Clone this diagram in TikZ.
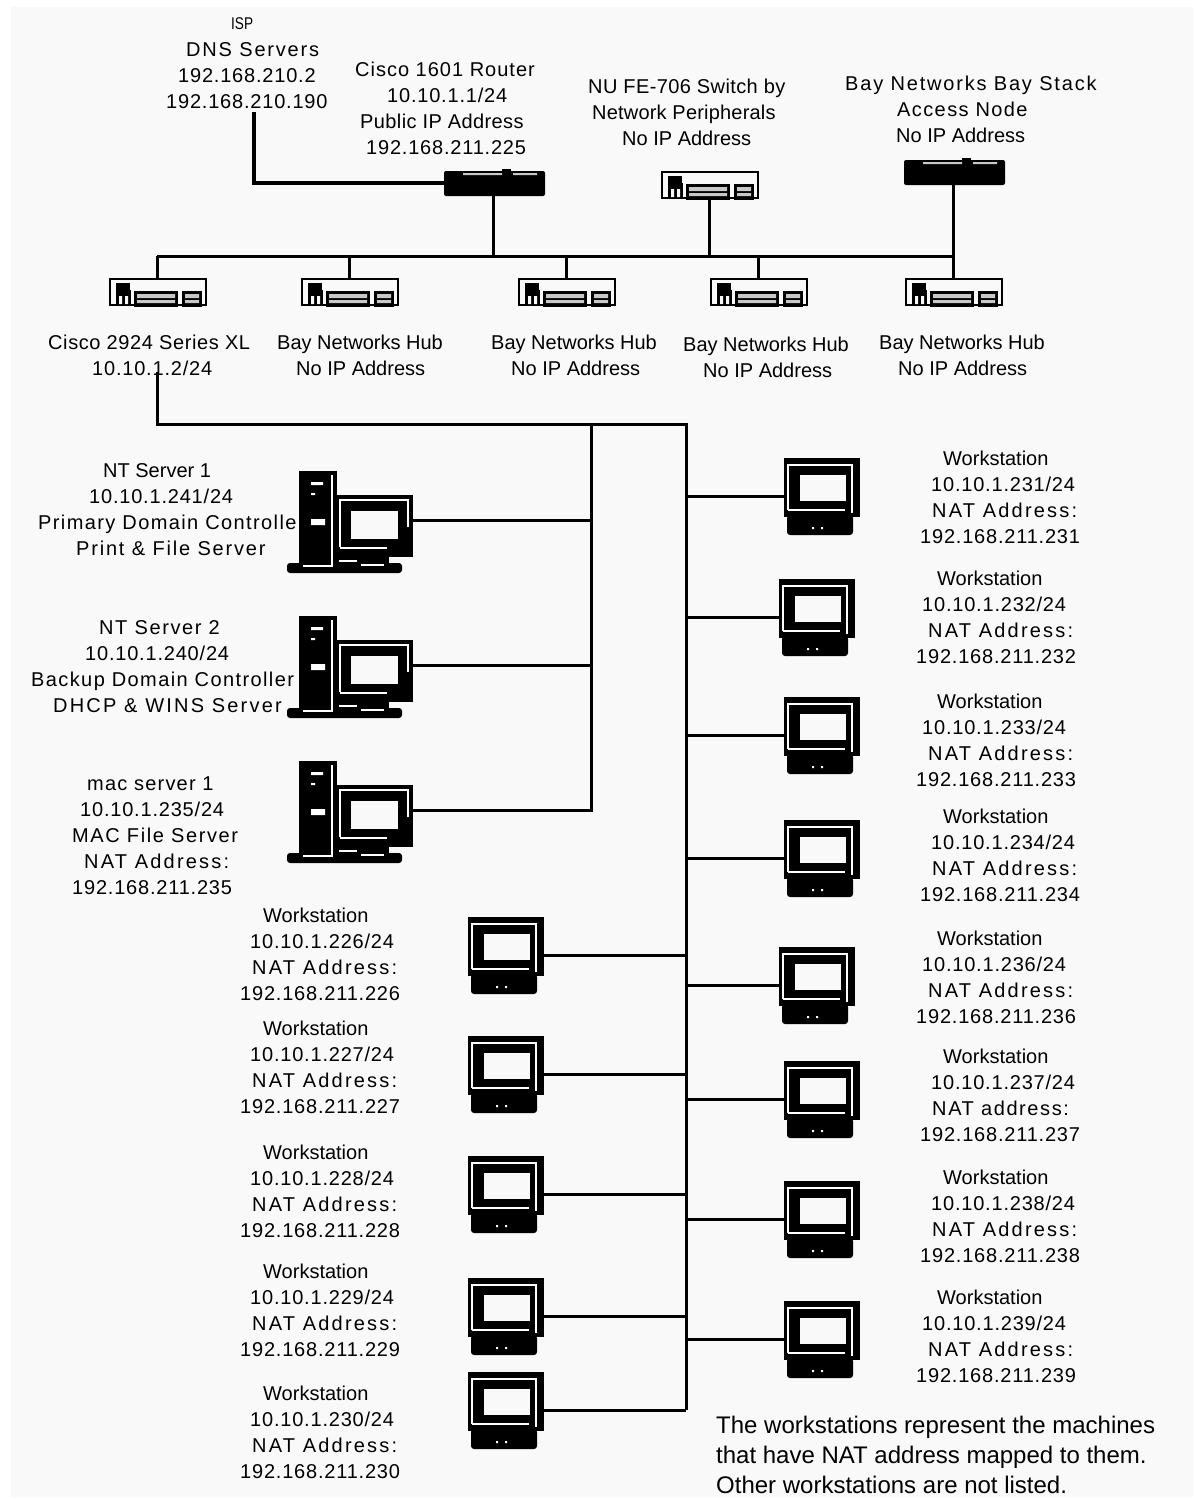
\documentclass[tikz,border=0pt]{standalone}
\usepackage{fontspec}
\setmainfont{Liberation Sans}
\usepackage{xcolor}
\usepackage{tikz}
\usetikzlibrary{arrows.meta,positioning,calc}

\definecolor{panelgray}{HTML}{F9F9F9}
\definecolor{stripgray}{HTML}{C8C8C8}
\newcommand{\offs}[1]{\hspace*{#1pt}}
\newcommand{\ls}[2]{{\addfontfeature{LetterSpace=#1}#2}}
\newcommand{\ip}[1]{\ls{4}{#1}}
\newcommand{\natlbl}{\ls{11}{NAT Address:}}

\tikzset{
    link/.style={line width=3pt, black},
    lbl/.style={anchor=west, align=left, inner sep=0pt, font=\fontsize{20}{26}\selectfont},
    note/.style={anchor=west, align=left, inner sep=0pt, font=\fontsize{24}{30}\selectfont},
    pics/wkstn/.style={code={
        \fill[black] (0,0) rectangle (76,59);
        \fill[black, rounded corners=3pt] (3,57) rectangle (69,77);
        \draw[white, line width=1.5pt] (4,52) -- (4,7) -- (68,7) -- (68,55);
        \draw[white, line width=2pt] (4,52) -- (61,52);
        \fill[panelgray] (16,17) rectangle (62,43);
        \fill[white] (28,69) rectangle (30,71) (37,69) rectangle (39,71);
        \coordinate (-w) at (0,38);
        \coordinate (-e) at (76,38);
    }},
    pics/server/.style={code={
        \fill[black] (12,0) rectangle (50,98);
        \fill[black] (50,24) rectangle (126,86);
        \fill[black] (50,86) rectangle (102,94);
        \fill[black, rounded corners=3pt] (0,92) rectangle (115,102);
        \fill[white] (24,11) rectangle (36,14) (24,48) rectangle (38,54) (24,22) rectangle (28,24);
        \draw[white, line width=1.2pt] (45,4) -- (45,95) -- (16,95);
        \draw[white, line width=1.2pt] (53,76) -- (53,29) -- (121,29) -- (121,56);
        \draw[white, line width=1.5pt] (53,77) -- (100,77);
        \fill[panelgray] (64,40) rectangle (111,68);
        \draw[white, line width=1.2pt] (52,90) -- (70,90) (74,94) -- (97,94);
        \coordinate (-e) at (126,49);
    }},
    pics/hub/.style={code={
        \draw[black, line width=1.5pt] (0,0) rectangle (96,26);
        \fill[black] (6,4) rectangle (20,11);
        \fill[black] (6,11) rectangle (21,27);
        \fill[panelgray] (9,17) rectangle (12,25) (15,17) rectangle (18,25);
        \fill[black] (24,12) rectangle (68,28);
        \fill[black] (72,12) rectangle (92,28);
        \fill[stripgray] (27,15) rectangle (65,19) (27,21) rectangle (65,24);
        \fill[stripgray] (75,15) rectangle (89,19) (75,21) rectangle (89,24);
        \coordinate (-n) at (47,0);
    }},
    pics/router/.style={code={
        \fill[black, rounded corners=2pt] (0,0) rectangle (101,25);
        \fill[black] (58,-2) rectangle (67,0);
        \fill[stripgray] (19,2) rectangle (58,4) (69,2) rectangle (93,4);
        \coordinate (-w) at (0,12);
        \coordinate (-n) at (49,0);
        \coordinate (-s) at (49,25);
    }},
}

\begin{document}
\begin{tikzpicture}[x=1pt, y=-1pt]
    \useasboundingbox (0,0) rectangle (1195,1499);
    \fill[panelgray] (11,7) rectangle (1193,1497);

    % Top device labels
    \node[lbl, font=\fontsize{17}{17}\selectfont\addfontfeature{FakeStretch=0.8}] (isp) at (231,24) {ISP};
    \node[lbl] (dns) at (166,76) {\offs{20}\ls{9}{DNS Servers}\\\offs{12}\ip{192.168.210.2}\\\ip{192.168.210.190}};
    \node[lbl] (routertext) at (355,108) {\ls{5}{Cisco 1601 Router}\\\offs{32}\ip{10.10.1.1/24}\\\offs{5}\ls{2}{Public IP Address}\\\offs{11}\ip{192.168.211.225}};
    \node[lbl] (switchtext) at (588,112) {\ls{2}{NU FE-706 Switch by}\\\offs{4}\ls{1}{Network Peripherals}\\\offs{34}No IP Address};
    \node[lbl] (stacktext) at (845,109) {\ls{9}{Bay Networks Bay Stack}\\\offs{52}\ls{7}{Access Node}\\\offs{51}No IP Address};

    % Hub labels
    \node[lbl] (c2924text) at (48,355) {\ls{3}{Cisco 2924 Series XL}\\\offs{44}\ip{10.10.1.2/24}};
    \node[lbl] (hubtext1) at (277,355) {Bay Networks Hub\\\offs{19}No IP Address};
    \node[lbl] (hubtext2) at (491,355) {Bay Networks Hub\\\offs{20}No IP Address};
    \node[lbl] (hubtext3) at (683,357) {Bay Networks Hub\\\offs{20}No IP Address};
    \node[lbl] (hubtext4) at (879,355) {Bay Networks Hub\\\offs{19}No IP Address};

    % Server labels
    \node[lbl] (nt1text) at (38,510) {\offs{65}NT Server 1\\\offs{51}\ip{10.10.1.241/24}\\\ls{7}{Primary Domain Controlle}\\\offs{38}\ls{9}{Print \& File Server}};
    \node[lbl] (nt2text) at (31,667) {\offs{68}\ls{8}{NT Server 2}\\\offs{54}\ip{10.10.1.240/24}\\\ls{7}{Backup Domain Controller}\\\offs{22}\ls{11}{DHCP \& WINS Server}};
    \node[lbl] (mactext) at (72,836) {\offs{15}\ls{6}{mac server 1}\\\offs{8}\ip{10.10.1.235/24}\\\ls{8}{MAC File Server}\\\offs{12}\natlbl\\\ip{192.168.211.235}};

    % Workstation labels, left column
    \node[lbl] (text226) at (240,954) {\offs{23}Workstation\\\offs{10}\ip{10.10.1.226/24}\\\offs{12}\natlbl\\\ip{192.168.211.226}};
    \node[lbl] (text227) at (240,1067) {\offs{23}Workstation\\\offs{10}\ip{10.10.1.227/24}\\\offs{12}\natlbl\\\ip{192.168.211.227}};
    \node[lbl] (text228) at (240,1191) {\offs{23}Workstation\\\offs{10}\ip{10.10.1.228/24}\\\offs{12}\natlbl\\\ip{192.168.211.228}};
    \node[lbl] (text229) at (240,1310) {\offs{23}Workstation\\\offs{10}\ip{10.10.1.229/24}\\\offs{12}\natlbl\\\ip{192.168.211.229}};
    \node[lbl] (text230) at (240,1432) {\offs{23}Workstation\\\offs{10}\ip{10.10.1.230/24}\\\offs{12}\natlbl\\\ip{192.168.211.230}};

    % Workstation labels, right column
    \node[lbl] (text231) at (920,497) {\offs{23}Workstation\\\offs{11}\ip{10.10.1.231/24}\\\offs{12}\natlbl\\\ip{192.168.211.231}};
    \node[lbl] (text232) at (916,617) {\offs{21}Workstation\\\offs{6}\ip{10.10.1.232/24}\\\offs{12}\natlbl\\\ip{192.168.211.232}};
    \node[lbl] (text233) at (916,740) {\offs{21}Workstation\\\offs{6}\ip{10.10.1.233/24}\\\offs{12}\natlbl\\\ip{192.168.211.233}};
    \node[lbl] (text234) at (920,855) {\offs{23}Workstation\\\offs{11}\ip{10.10.1.234/24}\\\offs{12}\natlbl\\\ip{192.168.211.234}};
    \node[lbl] (text236) at (916,977) {\offs{21}Workstation\\\offs{6}\ip{10.10.1.236/24}\\\offs{12}\natlbl\\\ip{192.168.211.236}};
    \node[lbl] (text237) at (920,1095) {\offs{23}Workstation\\\offs{11}\ip{10.10.1.237/24}\\\offs{12}\ls{8}{NAT address:}\\\ip{192.168.211.237}};
    \node[lbl] (text238) at (920,1216) {\offs{23}Workstation\\\offs{11}\ip{10.10.1.238/24}\\\offs{12}\natlbl\\\ip{192.168.211.238}};
    \node[lbl] (text239) at (916,1336) {\offs{21}Workstation\\\offs{6}\ip{10.10.1.239/24}\\\offs{12}\natlbl\\\ip{192.168.211.239}};

    % Footnote
    \node[note] (footnote) at (716,1455) {The workstations represent the machines\\that have NAT address mapped to them.\\Other workstations are not listed.};

    % Top devices
    \pic (router) at (444,171) {router};
    \pic (switch) at (662,172) {hub};
    \pic (stack) at (904,160) {router};
    \coordinate (dnsport) at (254,112);

    % Hubs
    \pic (c2924) at (110,279) {hub};
    \pic (hub1) at (302,279) {hub};
    \pic (hub2) at (519,279) {hub};
    \pic (hub3) at (711,279) {hub};
    \pic (hub4) at (906,279) {hub};

    % Servers
    \pic (nt1) at (287,471) {server};
    \pic (nt2) at (287,616) {server};
    \pic (mac) at (287,761) {server};

    % Workstations, left column
    \pic (ws226) at (468,917) {wkstn};
    \pic (ws227) at (468,1036) {wkstn};
    \pic (ws228) at (468,1156) {wkstn};
    \pic (ws229) at (468,1278) {wkstn};
    \pic (ws230) at (468,1372) {wkstn};

    % Workstations, right column
    \pic (ws231) at (784,458) {wkstn};
    \pic (ws232) at (779,579) {wkstn};
    \pic (ws233) at (784,697) {wkstn};
    \pic (ws234) at (784,820) {wkstn};
    \pic (ws236) at (779,947) {wkstn};
    \pic (ws237) at (784,1061) {wkstn};
    \pic (ws238) at (784,1181) {wkstn};
    \pic (ws239) at (784,1301) {wkstn};

    % Backbone coordinates
    \coordinate (hubbus) at (157,256);
    \coordinate (corner) at (157,424);
    \coordinate (srvbus) at (591,424);
    \coordinate (wsbus) at (686,424);

    % Upper links
    \draw[link, line width=4pt] (dnsport) |- (router-w);
    \draw[link] (router-s) -- (router-s |- hubbus);
    \draw[link] (switch-n) ++(0,26) -- (switch-n |- hubbus);
    \draw[link] (stack-s) -- (stack-s |- hub4-n);
    \draw[link] (hubbus) -- (hubbus -| stack-s);
    \draw[link] (c2924-n) -- (c2924-n |- hubbus);
    \draw[link] (hub1-n) -- (hub1-n |- hubbus);
    \draw[link] (hub2-n) -- (hub2-n |- hubbus);
    \draw[link] (hub3-n) -- (hub3-n |- hubbus);
    \draw[link] (hub4-n) -- (hub4-n |- hubbus);

    % Lower backbone
    \draw[link] (c2924-n |- 0,372) -- (corner) -- (wsbus) -- (ws230-e -| wsbus);
    \draw[link] (srvbus) |- (mac-e);
    \draw[link] (nt1-e) -- (nt1-e -| srvbus);
    \draw[link] (nt2-e) -- (nt2-e -| srvbus);

    % Workstation links
    \draw[link] (ws226-e) -- (ws226-e -| wsbus);
    \draw[link] (ws227-e) -- (ws227-e -| wsbus);
    \draw[link] (ws228-e) -- (ws228-e -| wsbus);
    \draw[link] (ws229-e) -- (ws229-e -| wsbus);
    \draw[link] (ws230-e) -- (ws230-e -| wsbus);
    \draw[link] (ws231-w) -- (ws231-w -| wsbus);
    \draw[link] (ws232-w) -- (ws232-w -| wsbus);
    \draw[link] (ws233-w) -- (ws233-w -| wsbus);
    \draw[link] (ws234-w) -- (ws234-w -| wsbus);
    \draw[link] (ws236-w) -- (ws236-w -| wsbus);
    \draw[link] (ws237-w) -- (ws237-w -| wsbus);
    \draw[link] (ws238-w) -- (ws238-w -| wsbus);
    \draw[link] (ws239-w) -- (ws239-w -| wsbus);
\end{tikzpicture}
\end{document}
